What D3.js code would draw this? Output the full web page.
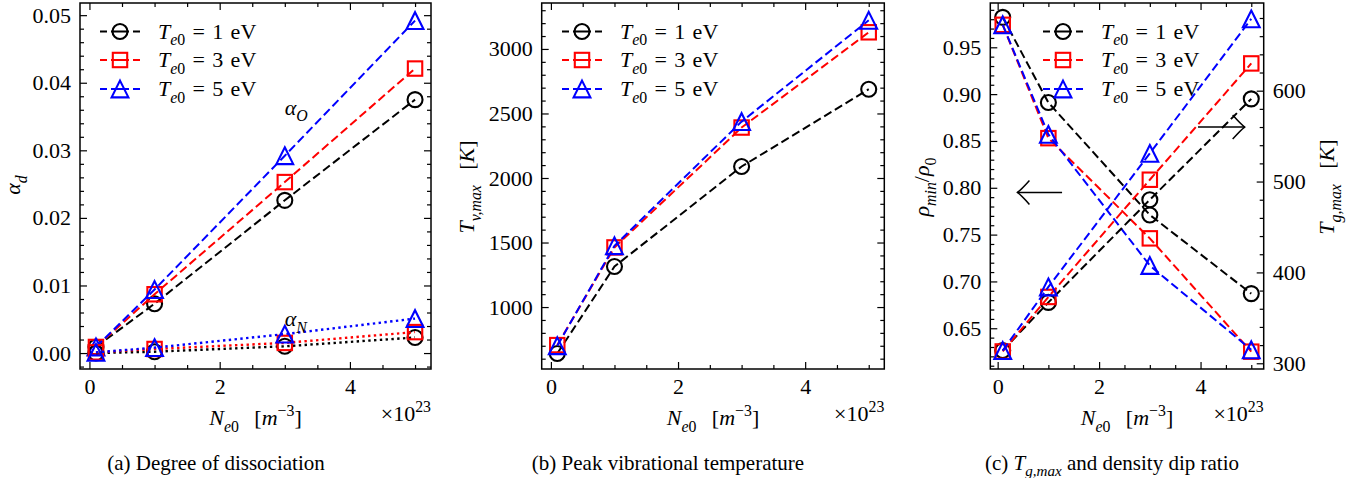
<!DOCTYPE html>
<html lang="en"><head><meta charset="utf-8">
<script src="https://d3js.org/d3.v7.min.js"></script>
<style>
  body { margin: 0; background: #fff; }
  svg { display: block; }
  text { font-family: "Liberation Serif", "Tinos", "Times New Roman", "DejaVu Serif", serif; fill: #000; }
</style>
</head>
<body>
<svg id="fig" width="1362" height="478"></svg>
<script>
// ---- data ----
const xNe = [0.1, 1, 3, 5];            // N_e0 in units of 1e23 m^-3
const teNames = ["1", "3", "5"];        // T_e0 in eV

// (a) degree of dissociation
const alphaO_T1 = [0.0009, 0.0073, 0.0226, 0.0375];
const alphaO_T3 = [0.0009, 0.0087, 0.0253, 0.0421];
const alphaO_T5 = [0.0009, 0.0094, 0.0292, 0.0492];
const alphaN_T1 = [0.0000, 0.0002, 0.0010, 0.0023];
const alphaN_T3 = [0.0001, 0.0006, 0.0015, 0.0031];
const alphaN_T5 = [0.0001, 0.0008, 0.0028, 0.0051];

// (b) peak vibrational temperature [K]
const tvmax_T1 = [640, 1314, 2089, 2688];
const tvmax_T3 = [705, 1462, 2391, 3129];
const tvmax_T5 = [700, 1475, 2437, 3222];

// (c) density dip ratio and peak gas temperature [K]
const rho_T1 = [0.982, 0.891, 0.771, 0.687];
const rho_T3 = [0.974, 0.853, 0.746, 0.625];
const rho_T5 = [0.974, 0.857, 0.717, 0.627];
const tg_T1 = [314, 367, 480, 591];
const tg_T3 = [313, 373, 502, 630];
const tg_T5 = [314, 384, 531, 679];

// ticks
const xTicks = [0, 2, 4];
const xMinor = [0.5, 1, 1.5, 2.5, 3, 3.5, 4.5, 5];
const aYTicks = [0, 0.01, 0.02, 0.03, 0.04, 0.05];
const bYTicks = [1000, 1500, 2000, 2500, 3000];
const cYTicks = [0.65, 0.70, 0.75, 0.80, 0.85, 0.90, 0.95];
const cY2Ticks = [300, 400, 500, 600];

// annotation anchors (data coords)
const labelAlphaO = [3.0, 0.0353];
const labelAlphaN = [3.0, 0.0040];
const arrowLeft = [[1.27, 0.795], [0.39, 0.795]];   // tail, tip (left axis)
const arrowRight = [[3.95, 560], [4.87, 560]];      // tail, tip (right axis)

// ---- styles ----
const colors = ["#000000", "#ff0000", "#0000ff"];
const markers = ["circle", "square", "triangle"];
const FS = 22;
const FONT = '"Liberation Serif", "Tinos", "Times New Roman", "DejaVu Serif", serif';
const DASH = "8.5,4";
const DOT = "2.4,3.4";

const svg = d3.select("#fig");

function rich(sel, parts, fs) {
  let shift = 0;
  sel.style("font-family", FONT).style("font-size", fs + "px");
  parts.forEach(p => {
    const target = p.sub ? fs * 0.3 : p.sup ? -fs * 0.42 : 0;
    const ts = sel.append("tspan").text(p.t).attr("dy", target - shift);
    shift = target;
    ts.style("font-size", ((p.sub || p.sup) ? fs * 0.72 : fs) + "px");
    if (p.i) ts.style("font-style", "italic");
  });
  return sel;
}

function drawMarker(g, type, x, y, color) {
  let m;
  if (type === "circle") {
    m = g.append("circle").attr("cx", x).attr("cy", y).attr("r", 7.5);
  } else if (type === "square") {
    m = g.append("rect").attr("x", x - 7.2).attr("y", y - 7.2).attr("width", 14.4).attr("height", 14.4);
  } else {
    const h = 8.4;
    m = g.append("path").attr("d", `M${x},${y - h}L${x + h},${y + h}L${x - h},${y + h}Z`);
  }
  m.attr("fill", "none").attr("stroke", color).attr("stroke-width", 2.1);
}

function styleAxis(g) {
  g.attr("font-family", null).attr("font-size", null);
  g.select(".domain").remove();
  g.selectAll(".tick line").attr("stroke", "#000").attr("stroke-width", 1.2);
  g.selectAll("text").style("font-family", FONT).style("font-size", FS + "px");
}

function makePanel(box, yDomain, yTicks, yFmt, yMinorStep, opts = {}) {
  const x = d3.scaleLinear().domain([-0.145, 5.245]).range([box.l, box.r]);
  const y = d3.scaleLinear().domain(yDomain).range([box.b, box.t]);
  const g = svg.append("g");
  const yMinor = d3.range(Math.ceil(yDomain[0] / yMinorStep) * yMinorStep, yDomain[1], yMinorStep)
    .filter(v => !yTicks.some(t => Math.abs(t - v) < yMinorStep / 10));

  // bottom
  g.append("g").attr("transform", `translate(0,${box.b})`)
    .call(d3.axisBottom(x).tickValues(xTicks).tickSize(-7).tickPadding(9).tickFormat(d3.format("d")))
    .call(styleAxis);
  g.append("g").attr("transform", `translate(0,${box.b})`)
    .call(d3.axisBottom(x).tickValues(xMinor).tickSize(-4).tickFormat(""))
    .call(styleAxis);
  // top
  g.append("g").attr("transform", `translate(0,${box.t})`)
    .call(d3.axisTop(x).tickValues(xTicks).tickSize(-7).tickFormat(""))
    .call(styleAxis);
  g.append("g").attr("transform", `translate(0,${box.t})`)
    .call(d3.axisTop(x).tickValues(xMinor).tickSize(-4).tickFormat(""))
    .call(styleAxis);
  // left
  g.append("g").attr("transform", `translate(${box.l},0)`)
    .call(d3.axisLeft(y).tickValues(yTicks).tickSize(-7).tickPadding(9).tickFormat(d3.format(yFmt)))
    .call(styleAxis);
  g.append("g").attr("transform", `translate(${box.l},0)`)
    .call(d3.axisLeft(y).tickValues(yMinor).tickSize(-4).tickFormat(""))
    .call(styleAxis);
  // right (mirror unless twin axis)
  if (!opts.twin) {
    g.append("g").attr("transform", `translate(${box.r},0)`)
      .call(d3.axisRight(y).tickValues(yTicks).tickSize(-7).tickFormat(""))
      .call(styleAxis);
    g.append("g").attr("transform", `translate(${box.r},0)`)
      .call(d3.axisRight(y).tickValues(yMinor).tickSize(-4).tickFormat(""))
      .call(styleAxis);
  }
  g.append("rect").attr("x", box.l).attr("y", box.t)
    .attr("width", box.r - box.l).attr("height", box.b - box.t)
    .attr("fill", "none").attr("stroke", "#000").attr("stroke-width", 1.5);

  // x label + offset text
  const cx = (box.l + box.r) / 2;
  rich(g.append("text").attr("x", cx).attr("y", 425).attr("text-anchor", "middle"),
    [{ t: "N", i: 1 }, { t: "e", i: 1, sub: 1 }, { t: "0", sub: 1 }, { t: "\u2002\u2009[" },
     { t: "m", i: 1 }, { t: "\u22123", sup: 1 }, { t: "]" }], FS);
  rich(g.append("text").attr("x", box.r).attr("y", 421).attr("text-anchor", "end"),
    [{ t: "\u00d710" }, { t: "23", sup: 1 }], FS);
  return { g, x, y };
}

function drawSeries(p, yScale, vals, i, dash) {
  const line = d3.line().x((d, k) => p.x(xNe[k])).y(d => yScale(d));
  p.g.append("path").attr("d", line(vals)).attr("fill", "none")
    .attr("stroke", colors[i]).attr("stroke-width", dash === DOT ? 2.4 : 2).attr("stroke-dasharray", dash);
  vals.forEach((v, k) => drawMarker(p.g, markers[i], p.x(xNe[k]), yScale(v), colors[i]));
}

function legend(g, lx, rows) {
  teNames.forEach((name, i) => {
    const yy = rows[i];
    g.append("line").attr("x1", lx).attr("x2", lx + 40).attr("y1", yy).attr("y2", yy)
      .attr("stroke", colors[i]).attr("stroke-width", 2).attr("stroke-dasharray", "7,4,18,4,7");
    drawMarker(g, markers[i], lx + 20, yy, colors[i]);
    rich(g.append("text").attr("x", lx + 58).attr("y", yy + 7),
      [{ t: "T", i: 1 }, { t: "e", i: 1, sub: 1 }, { t: "0", sub: 1 },
       { t: "\u2004=\u2004" + name + "\u2004eV" }], FS);
  });
}

function ylabel(g, x, y, parts) {
  rich(g.append("text").attr("transform", `translate(${x},${y}) rotate(-90)`)
    .attr("text-anchor", "middle"), parts, FS);
}

const legendRows = [31.5, 60, 89];

// ---- (a) ----
const pa = makePanel({ l: 80, r: 431, t: 3, b: 369 }, [-0.00236, 0.0518], aYTicks, ".2f", 0.002);
[alphaO_T1, alphaO_T3, alphaO_T5].forEach((v, i) => drawSeries(pa, pa.y, v, i, DASH));
[alphaN_T1, alphaN_T3, alphaN_T5].forEach((v, i) => drawSeries(pa, pa.y, v, i, DOT));
legend(pa.g, 100, legendRows);
rich(pa.g.append("text").attr("x", pa.x(labelAlphaO[0])).attr("y", pa.y(labelAlphaO[1])),
  [{ t: "\u03b1", i: 1 }, { t: "O", i: 1, sub: 1 }], FS);
rich(pa.g.append("text").attr("x", pa.x(labelAlphaN[0])).attr("y", pa.y(labelAlphaN[1])),
  [{ t: "\u03b1", i: 1 }, { t: "N", i: 1, sub: 1 }], FS);
ylabel(pa.g, 20, 185, [{ t: "\u03b1", i: 1 }, { t: "d", i: 1, sub: 1 }]);

// ---- (b) ----
const pb = makePanel({ l: 541.7, r: 884.3, t: 3, b: 369 }, [520, 3356], bYTicks, "d", 100);
[tvmax_T1, tvmax_T3, tvmax_T5].forEach((v, i) => drawSeries(pb, pb.y, v, i, DASH));
legend(pb.g, 562, legendRows);
ylabel(pb.g, 474, 187, [{ t: "T", i: 1 }, { t: "v,max", i: 1, sub: 1 }, { t: "\u2002\u2009[" }, { t: "K", i: 1 }, { t: "]" }]);

// ---- (c) ----
const boxC = { l: 990.3, r: 1263.7, t: 3, b: 369 };
const pc = makePanel(boxC, [0.6065, 0.9973], cYTicks, ".2f", 0.01, { twin: true });
const y2 = d3.scaleLinear().domain([293.7, 696.5]).range([boxC.b, boxC.t]);
const y2Minor = d3.range(300, 696, 20).filter(v => v % 100 !== 0);
pc.g.append("g").attr("transform", `translate(${boxC.r},0)`)
  .call(d3.axisRight(y2).tickValues(cY2Ticks).tickSize(-7).tickPadding(9).tickFormat(d3.format("d")))
  .call(styleAxis);
pc.g.append("g").attr("transform", `translate(${boxC.r},0)`)
  .call(d3.axisRight(y2).tickValues(y2Minor).tickSize(-4).tickFormat(""))
  .call(styleAxis);
[rho_T1, rho_T3, rho_T5].forEach((v, i) => drawSeries(pc, pc.y, v, i, DASH));
[tg_T1, tg_T3, tg_T5].forEach((v, i) => drawSeries(pc, y2, v, i, DASH));
legend(pc.g, 1043, legendRows);
ylabel(pc.g, 929, 187, [{ t: "\u03c1", i: 1 }, { t: "min", i: 1, sub: 1 }, { t: "/" }, { t: "\u03c1", i: 1 }, { t: "0", sub: 1 }]);
ylabel(pc.g, 1334, 187, [{ t: "T", i: 1 }, { t: "g,max", i: 1, sub: 1 }, { t: "\u2002\u2009[" }, { t: "K", i: 1 }, { t: "]" }]);

function arrow(g, tail, tip) {
  const dir = Math.sign(tail[0] - tip[0]);
  const tx = tip[0], ty = tip[1];
  g.append("path").attr("d", `M${tail[0]},${ty}H${tx}`)
    .attr("stroke", "#000").attr("stroke-width", 1.5).attr("fill", "none");
  g.append("path")
    .attr("d", `M${tx + dir * 12},${ty - 12}Q${tx + dir * 4},${ty - 3} ${tx},${ty}Q${tx + dir * 4},${ty + 3} ${tx + dir * 12},${ty + 12}`)
    .attr("stroke", "#000").attr("stroke-width", 1.5).attr("fill", "none");
}
arrow(pc.g, [pc.x(arrowLeft[0][0]), pc.y(arrowLeft[0][1])], [pc.x(arrowLeft[1][0]), pc.y(arrowLeft[1][1])]);
arrow(pc.g, [pc.x(arrowRight[0][0]), y2(arrowRight[0][1])], [pc.x(arrowRight[1][0]), y2(arrowRight[1][1])]);

// ---- captions ----
function caption(x, parts) {
  rich(svg.append("text").attr("x", x).attr("y", 470).attr("text-anchor", "middle"), parts, 21);
}
caption(216, [{ t: "(a) Degree of dissociation" }]);
caption(668, [{ t: "(b) Peak vibrational temperature" }]);
caption(1112, [{ t: "(c) " }, { t: "T", i: 1 }, { t: "g,max", i: 1, sub: 1 }, { t: " and density dip ratio" }]);
</script>
</body>
</html>
